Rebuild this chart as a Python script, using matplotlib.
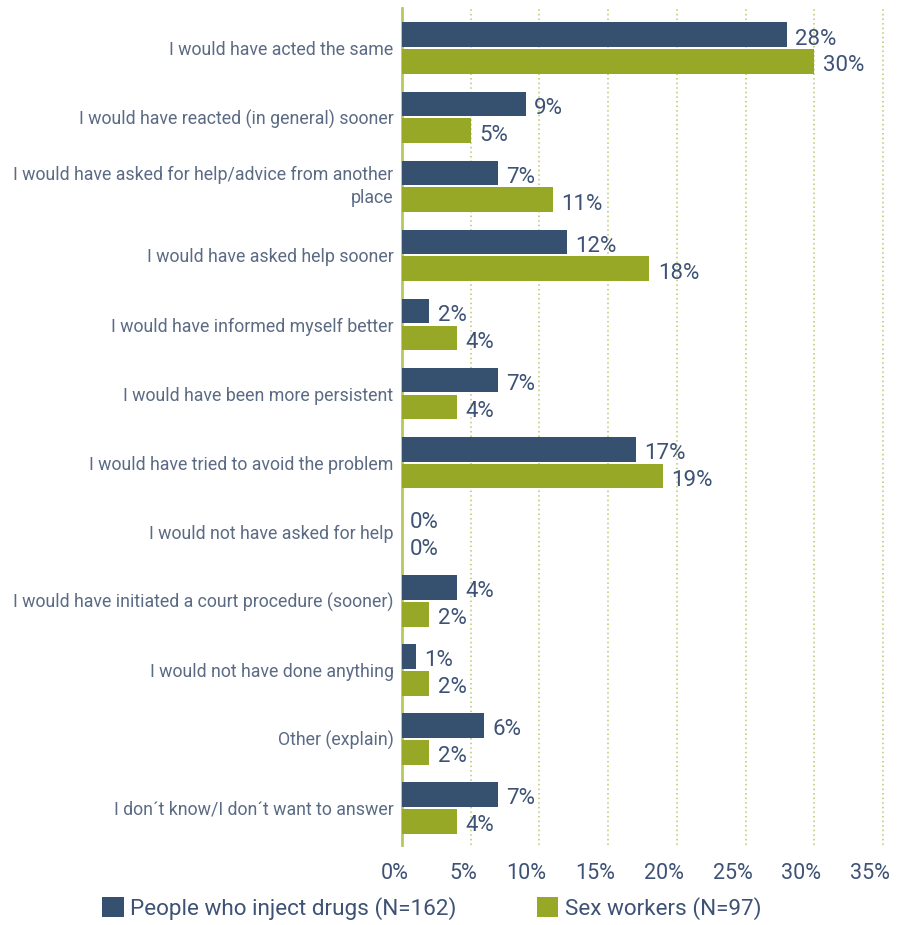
import matplotlib
matplotlib.use("Agg")
import matplotlib.pyplot as plt
import matplotlib.transforms as mtransforms

categories = [
    "I would have acted the same",
    "I would have reacted (in general) sooner",
    "I would have asked for help/advice from another\nplace",
    "I would have asked help sooner",
    "I would have informed myself better",
    "I would have been more persistent",
    "I would have tried to avoid the problem",
    "I would not have asked for help",
    "I would have initiated a court procedure (sooner)",
    "I would not have done anything",
    "Other (explain)",
    "I don\u00b4t know/I don\u00b4t want to answer",
]
pwid = [28, 9, 7, 12, 2, 7, 17, 0, 4, 1, 6, 7]
sex_workers = [30, 5, 11, 18, 4, 4, 19, 0, 2, 2, 2, 4]
series_names = ["People who inject drugs (N=162)", "Sex workers (N=97)"]
xticks = [0, 5, 10, 15, 20, 25, 30, 35]

BLUE = "#36506f"
GREEN = "#96a825"
LABEL = "#5b6b84"
VALUE = "#3e5275"

plt.rcParams["font.family"] = ["Roboto", "DejaVu Sans"]

fig = plt.figure(figsize=(8.97, 9.25), dpi=100)
ax = fig.add_axes([0.448, 0.0865, 0.552, 0.9045])

n = len(categories)
pos = list(range(n))
h = 0.36
off = 0.195
b1 = ax.barh([p - off for p in pos], pwid, height=h, color=BLUE, label=series_names[0], zorder=3)
b2 = ax.barh([p + off for p in pos], sex_workers, height=h, color=GREEN, label=series_names[1], zorder=3)

for bars, vals in ((b1, pwid), (b2, sex_workers)):
    for rect, v in zip(bars, vals):
        y = rect.get_y() + rect.get_height() / 2
        ax.annotate(f"{v}%", xy=(v, y), xytext=(6, -3), textcoords="offset points",
                    ha="left", va="center", fontsize=16, color=VALUE)

ax.set_xlim(0, 36)
ax.set_ylim(n - 1 + 0.54, -0.58)
ax.set_yticks(pos)
ax.set_yticklabels(categories, fontsize=12.8, color=LABEL, linespacing=1.3)
ax.tick_params(axis="y", length=0, pad=6)
# two-line label sits slightly higher than its group centre
up = mtransforms.ScaledTranslation(0, 4 / 100, fig.dpi_scale_trans)
for lab in ax.get_yticklabels():
    if "\n" in lab.get_text():
        lab.set_transform(lab.get_transform() + up)

ax.set_xticks(xticks)
ax.set_xticklabels([f"{t}%" for t in xticks], fontsize=15.5, color=VALUE)
ax.tick_params(axis="x", length=0, pad=13)
shift = mtransforms.ScaledTranslation(7 / 100, 0, fig.dpi_scale_trans)
for lab in ax.get_xticklabels():
    lab.set_horizontalalignment("right")
    lab.set_transform(lab.get_transform() + shift)

for t in xticks[1:]:
    ax.axvline(t, color="#b8c86a", linestyle=(0, (1, 2)), linewidth=1.1, zorder=1)

for s in ("top", "right", "bottom"):
    ax.spines[s].set_visible(False)
ax.spines["left"].set_color("#b5c95a")
ax.spines["left"].set_linewidth(2)

fig.legend(handles=[b1, b2], labels=series_names, loc="lower left",
           bbox_to_anchor=(0.099, -0.009), ncol=2, frameon=False, fontsize=16.2,
           labelcolor=VALUE, handlelength=0.95, handleheight=0.95,
           handletextpad=0.3, columnspacing=3.55, borderaxespad=0.2)

fig.savefig("out.png", dpi=100)
